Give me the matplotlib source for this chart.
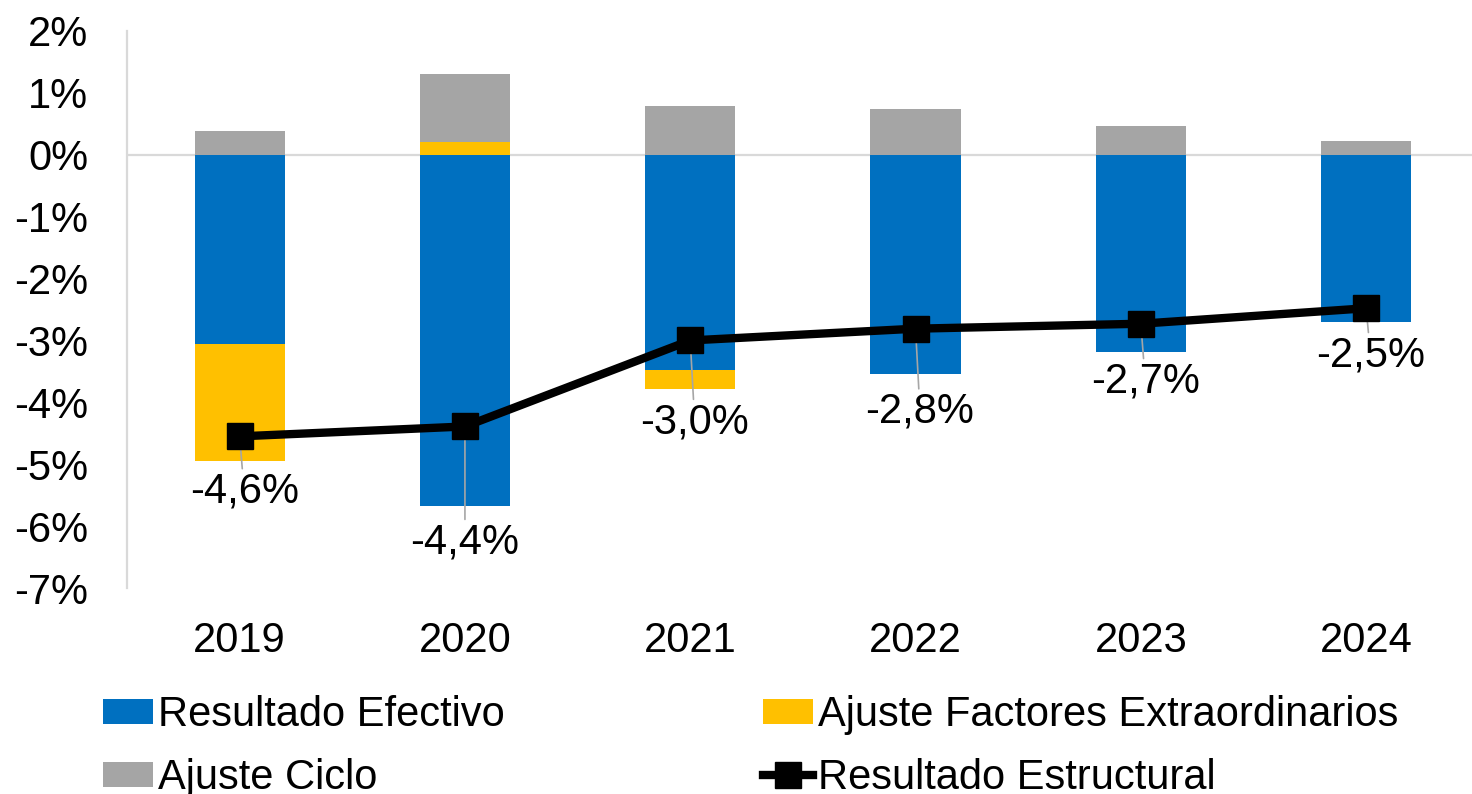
import matplotlib
matplotlib.use("Agg")
import matplotlib.pyplot as plt
import numpy as np

plt.rcParams['font.family'] = ['Liberation Sans', 'DejaVu Sans']

years = ["2019", "2020", "2021", "2022", "2023", "2024"]
resultado_efectivo = [-3.05, -5.68, -3.48, -3.55, -3.18, -2.70]
ajuste_extra = [-1.90, 0.21, -0.30, 0.0, 0.0, 0.0]
ajuste_ciclo = [0.39, 1.10, 0.79, 0.74, 0.46, 0.23]
resultado_estructural = [-4.55, -4.39, -3.00, -2.81, -2.73, -2.48]
estructural_labels = ["-4,6%", "-4,4%", "-3,0%", "-2,8%", "-2,7%", "-2,5%"]
label_y = [-5.44, -6.26, -4.32, -4.15, -3.66, -3.24]
label_dx = [0.02, 0.0, 0.02, 0.02, 0.02, 0.02]
yticks = [2, 1, 0, -1, -2, -3, -4, -5, -6, -7]

c_blue = "#0070C0"
c_yellow = "#FFC000"
c_gray = "#A5A5A5"

fig = plt.figure(figsize=(14.72, 7.94), dpi=100)
ax = fig.add_axes([127/1472, 1 - 588/794, 1 - 127/1472, (588 - 31)/794])

x = np.arange(len(years))
eff = np.array(resultado_efectivo)
ext = np.array(ajuste_extra)
cyc = np.array(ajuste_ciclo)
w = 0.40

ax.axhline(0, color="#D9D9D9", lw=1.6, zorder=1)
b_eff = ax.bar(x, eff, w, color=c_blue, zorder=2, label="Resultado Efectivo")
ext_bottom = np.where(ext < 0, eff, 0.0)
b_ext = ax.bar(x, ext, w, bottom=ext_bottom, color=c_yellow, zorder=2,
               label="Ajuste Factores Extraordinarios")
cyc_bottom = np.where(ext > 0, ext, 0.0)
b_cyc = ax.bar(x, cyc, w, bottom=cyc_bottom, color=c_gray, zorder=2,
               label="Ajuste Ciclo")

ln, = ax.plot(x, resultado_estructural, color="black", lw=6, marker="s", ms=19,
              zorder=5, label="Resultado Estructural", solid_joinstyle="miter")

for i, (v, lab) in enumerate(zip(resultado_estructural, estructural_labels)):
    ax.annotate(lab, xy=(x[i], v), xytext=(x[i] + label_dx[i], label_y[i]),
                ha="center", va="center", fontsize=30, color="black",
                arrowprops=dict(arrowstyle="-", color="#A6A6A6", lw=1.2,
                                shrinkA=0, shrinkB=0),
                zorder=4)

ax.set_xlim(-0.5, 5.47)
ax.set_ylim(-7, 2)
ax.set_xticks(x)
ax.set_xticklabels(years, fontsize=30)
ax.set_yticks(yticks)
ax.set_yticklabels([f"{t}%" for t in yticks], fontsize=30)
ax.tick_params(axis="both", length=0)
ax.tick_params(axis="x", pad=24)
ax.tick_params(axis="y", pad=28)
for s in ["top", "right", "bottom"]:
    ax.spines[s].set_visible(False)
ax.spines["left"].set_color("#D9D9D9")
ax.spines["left"].set_linewidth(1.6)

# column-major fill: col1 = Efectivo, Ciclo ; col2 = Extra, Estructural
handles = [b_eff, b_cyc, b_ext, ln]
labels = [h.get_label() for h in handles]
fig.legend(handles, labels, ncol=2, loc="upper left",
           bbox_to_anchor=(103/1472, 1 - 695/794), frameon=False,
           fontsize=30, handlelength=1.2, handleheight=0.55,
           handletextpad=0.12, columnspacing=6.2, labelspacing=0.55,
           borderpad=0, borderaxespad=0)

fig.savefig("out.png", dpi=100)
